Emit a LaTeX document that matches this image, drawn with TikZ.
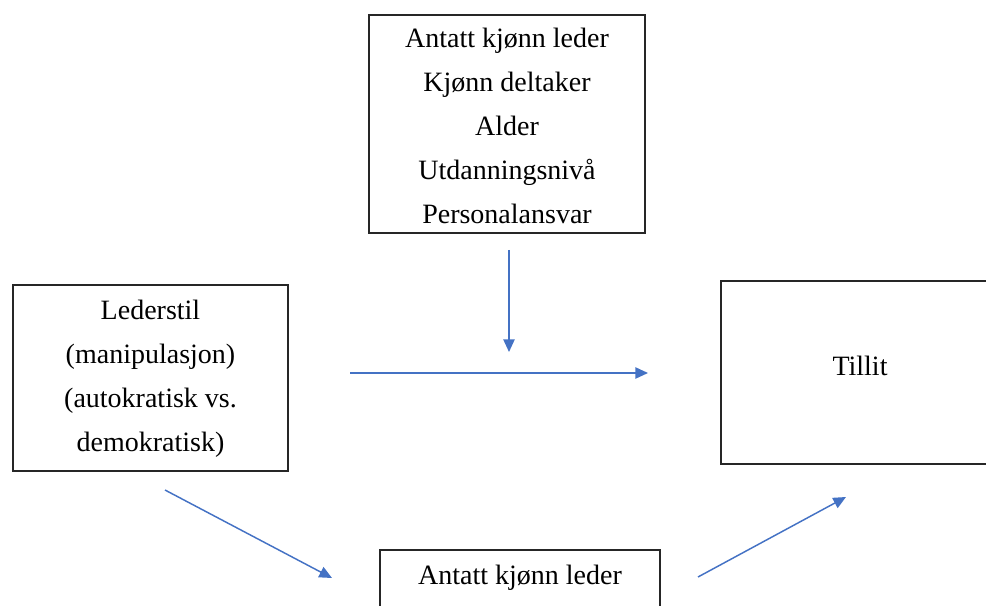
\documentclass[tikz,border=0pt]{standalone}
\usepackage{fontspec}
\setmainfont{Liberation Serif}
\usetikzlibrary{arrows.meta,positioning}
\definecolor{arrowblue}{HTML}{4472C4}
\definecolor{boxline}{HTML}{262626}
\tikzset{
  varbox/.style={draw=boxline,line width=1.4pt,inner sep=0pt},
  vartext/.style={align=center,inner sep=0pt,font=\fontsize{21}{33}\selectfont},
  arr/.style={arrowblue,line width=1.1pt,-{Triangle[length=9.5pt,width=8.5pt]}}
}
\begin{document}
\begin{tikzpicture}[x=0.75pt,y=-0.75pt]
  \useasboundingbox (0,0) rectangle (986,606);
  % Boxes
  \node[varbox,minimum width=207pt,minimum height=163.5pt] (mod) at (507,124) {};
  \node[varbox,minimum width=206.25pt,minimum height=139.5pt] (style) at (150.5,378) {};
  \node[varbox,minimum width=208.5pt,minimum height=137.25pt] (trust) at (860,372.5) {};
  \node[varbox,minimum width=210pt,minimum height=137.25pt] (med) at (520,641.5) {};
  % Texts
  \node[vartext] (modtxt) at (507,126) {Antatt kjønn leder\\Kjønn deltaker\\Alder\\Utdanningsnivå\\Personalansvar};
  \node[vartext] (styletxt) at (150.5,379) {Lederstil\\(manipulasjon)\\(autokratisk vs.\\demokratisk)};
  \node[vartext] (trusttxt) at (860,366) {Tillit};
  \node[vartext] (medtxt) at (520,578) {Antatt kjønn leder};
  % Arrow ends
  \coordinate (vs) at (509,250);
  \coordinate (ve) at (509,352);
  \coordinate (hs) at (350,373);
  \coordinate (he) at (648,373);
  \coordinate (ds) at (165,490);
  \coordinate (de) at (332,578);
  \coordinate (us) at (698,577);
  \coordinate (ue) at (846,497);
  % Arrows
  \foreach \a/\b in {vs/ve,hs/he,ds/de,us/ue}
    \draw[arr] (\a) -- (\b);
\end{tikzpicture}
\end{document}
